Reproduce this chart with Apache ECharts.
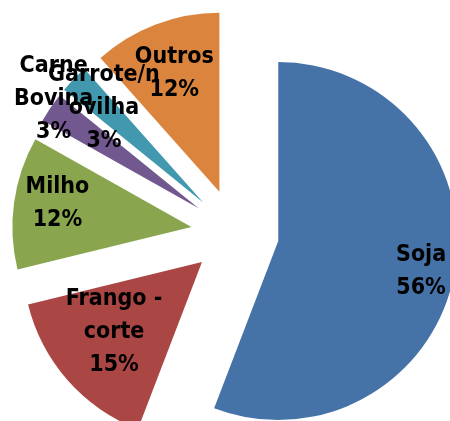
<!DOCTYPE html>
<html><head><meta charset="utf-8">
<script src="https://cdn.jsdelivr.net/npm/echarts@6/dist/echarts.min.js"></script>
<style>html,body{margin:0;padding:0;background:#fff}#c{width:450px;height:421px}</style>
</head><body><div id="c"></div>
<script>
const categories = ['Soja', 'Frango - corte', 'Milho', 'Carne Bovina', 'Garrote/novilha', 'Outros'];
const labelLines = ['Soja', 'Frango -\ncorte', 'Milho', 'Carne\nBovina', 'Garrote/n\novilha', 'Outros'];
const values = [56.0, 15.4, 12.0, 2.7, 2.6, 11.6];

const colors = ['#4572A7', '#AA4643', '#89A54E', '#71588F', '#4198AF', '#DB843D'];
const labelRadius = [0.80, 0.61, 0.75, 1.04, 0.79, 0.74];
const labelNudge = [[2, 4], [-6, -2], [-1, -5], [9, -5], [3, 3], [2, 5]];

const R = 179, CX = 235, CY = 233, OFFSET = 44;
const total = values.reduce((a, b) => a + b, 0);
let acc = 0;
const labelPos = values.map((v, i) => {
  const mid = (acc + v / 2) / total * 2 * Math.PI; acc += v;
  const sx = Math.sin(mid), sy = -Math.cos(mid);
  const d = OFFSET + labelRadius[i] * R;
  return [CX + sx * d + labelNudge[i][0], CY + sy * d + labelNudge[i][1]];
});

const chart = echarts.init(document.getElementById('c'));
chart.setOption({
  animation: false,
  series: [{
    type: 'pie',
    z: 2,
    center: [CX, CY],
    radius: [0, R],
    startAngle: 90,
    clockwise: true,
    selectedMode: 'multiple',
    selectedOffset: OFFSET,
    itemStyle: { borderWidth: 0 },
    select: { itemStyle: { borderWidth: 0 } },
    label: { show: false },
    labelLine: { show: false },
    data: values.map((v, i) => ({ name: categories[i], value: v, selected: true, itemStyle: { color: colors[i] } }))
  }, {
    type: 'pie',
    z: 10,
    silent: true,
    center: [CX, CY],
    radius: [0, R],
    startAngle: 90,
    clockwise: true,
    avoidLabelOverlap: false,
    percentPrecision: 2,
    itemStyle: { color: 'rgba(0,0,0,0)', borderWidth: 0 },
    labelLine: { show: false },
    label: {
      show: true,
      position: 'outside',
      color: '#000',
      fontFamily: '"DejaVu Sans Condensed", "Liberation Sans", sans-serif',
      fontWeight: 'bold',
      fontSize: 23,
      lineHeight: 33,
      formatter: p => labelLines[p.dataIndex] + '\n' + Math.round(p.percent) + '%'
    },
    labelLayout: p => ({
      x: labelPos[p.dataIndex][0],
      y: labelPos[p.dataIndex][1],
      align: 'center',
      verticalAlign: 'middle'
    }),
    data: values.map((v, i) => ({ name: categories[i], value: v }))
  }]
});
</script>
</body></html>
